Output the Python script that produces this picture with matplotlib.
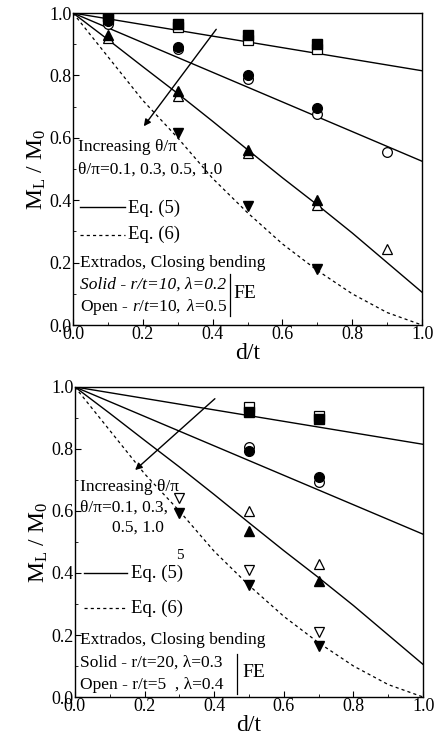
import matplotlib
matplotlib.use('Agg')
import matplotlib.pyplot as plt
import numpy as np

plt.rcParams.update({
    'font.family': ['Liberation Serif', 'DejaVu Serif'],
    'mathtext.fontset': 'custom',
    'mathtext.rm': 'Liberation Serif',
    'mathtext.it': 'Liberation Serif:italic',
    'xtick.direction': 'in',
    'ytick.direction': 'in',
})

# analytical curves (same in both panels)
d_eq = [0.0, 0.1, 0.2, 0.3, 0.4, 0.5, 0.6, 0.7, 0.8, 0.9, 1.0]
eq5_a = [1.0, 0.9815, 0.963, 0.9445, 0.926, 0.9075, 0.889, 0.8705, 0.852, 0.8335, 0.815]
eq5_b = [1.0, 0.9525, 0.905, 0.8575, 0.81, 0.7625, 0.715, 0.6675, 0.62, 0.5725, 0.525]
eq5_c = [1.0, 0.915, 0.828, 0.742, 0.653, 0.562, 0.472, 0.385, 0.295, 0.20, 0.105]
eq6 = [1.0, 0.86, 0.72, 0.60, 0.47, 0.36, 0.26, 0.175, 0.10, 0.04, 0.0]

# top panel FE data (solid = filled, open = hollow)
t_d = [0.1, 0.3, 0.5, 0.7]
t_sq_solid = [0.99, 0.965, 0.93, 0.90]
t_sq_open = [0.98, 0.955, 0.915, 0.885]
t_ci_solid = [0.975, 0.89, 0.80, 0.695]
t_ci_open = [0.965, 0.885, 0.79, 0.675]
t_tu_solid = [0.93, 0.75, 0.56, 0.40]
t_tu_open = [0.92, 0.735, 0.55, 0.385]
t_extra_d = [0.9]
t_ci_extra = [0.555]
t_tu_extra = [0.245]
t_td_d = [0.3, 0.5, 0.7]
t_td_solid = [0.615, 0.38, 0.18]

# bottom panel FE data
b_d = [0.5, 0.7]
b_sq_open = [0.935, 0.905]
b_sq_solid = [0.92, 0.895]
b_ci_open = [0.805, 0.695]
b_ci_solid = [0.795, 0.71]
b_tu_open = [0.60, 0.43]
b_tu_solid = [0.535, 0.375]
b_td_d = [0.3, 0.5, 0.7]
b_td_open = [0.642, 0.41, 0.21]
b_td_solid = [0.594, 0.36, 0.165]

fig = plt.figure(figsize=(4.38, 7.49), dpi=100)
ax1 = fig.add_axes([0.1667, 0.566, 0.797, 0.4166])
ax2 = fig.add_axes([0.171, 0.0694, 0.795, 0.414])

ms = 7
def pts(ax, x, y, m, filled):
    if filled:
        ax.plot(x, y, m, color='k', ms=ms, ls='none', zorder=4)
    else:
        ax.plot(x, y, m, mfc='white', mec='k', mew=0.9, ms=ms, ls='none', zorder=3)

fs = 12.5
for ax in (ax1, ax2):
    ax.plot(d_eq, eq5_a, 'k-', lw=1.0)
    ax.plot(d_eq, eq5_b, 'k-', lw=1.0)
    ax.plot(d_eq, eq5_c, 'k-', lw=1.0)
    ax.plot(d_eq, eq6, 'k--', lw=0.9, dashes=(2.5, 2.5))
    ax.set_xlim(0, 1.0)
    ax.set_ylim(0, 1.0)
    ax.set_xticks([0.0, 0.2, 0.4, 0.6, 0.8, 1.0])
    ax.set_yticks([0.0, 0.2, 0.4, 0.6, 0.8, 1.0])
    ax.set_xticks(np.arange(0.1, 1.0, 0.2), minor=True)
    ax.set_yticks(np.arange(0.1, 1.0, 0.2), minor=True)
    ax.tick_params(which='major', length=4, width=0.8, labelsize=13, pad=1)
    ax.tick_params(which='minor', length=2, width=0.6)
    ax.tick_params(top=False, right=False)
    ax.set_xlabel('d/t', fontsize=17, labelpad=0)
    ax.set_ylabel(r'M$_\mathrm{L}$ / M$_0$', fontsize=17, labelpad=1)
    for s in ax.spines.values():
        s.set_linewidth(1.0)

# top panel
pts(ax1, t_d, t_sq_open, 's', False)
pts(ax1, t_d, t_sq_solid, 's', True)
pts(ax1, t_d, t_ci_open, 'o', False)
pts(ax1, t_d, t_ci_solid, 'o', True)
pts(ax1, t_d, t_tu_open, '^', False)
pts(ax1, t_d, t_tu_solid, '^', True)
pts(ax1, t_extra_d, t_ci_extra, 'o', False)
pts(ax1, t_extra_d, t_tu_extra, '^', False)
pts(ax1, t_td_d, t_td_solid, 'v', True)

ax1.annotate('', xy=(0.198, 0.63), xytext=(0.415, 0.955),
             arrowprops=dict(arrowstyle='-|>', color='k', lw=1.0, mutation_scale=10))
ax1.text(0.015, 0.57, 'Increasing θ/π', fontsize=fs, va='center')
ax1.text(0.015, 0.497, 'θ/π=0.1, 0.3, 0.5, 1.0', fontsize=fs, va='center')
ax1.plot([0.02, 0.15], [0.378, 0.378], 'k-', lw=1.0)
ax1.text(0.158, 0.375, 'Eq. (5)', fontsize=13.5, va='center')
ax1.plot([0.02, 0.15], [0.29, 0.29], 'k--', lw=0.9, dashes=(2.5, 2.5))
ax1.text(0.158, 0.29, 'Eq. (6)', fontsize=13.5, va='center')
ax1.text(0.02, 0.20, 'Extrados, Closing bending', fontsize=fs, va='center')
ax1.text(0.02, 0.128, 'Solid - r/t=10, λ=0.2', fontsize=fs, va='center', style='italic')
ax1.text(0.02, 0.058, r'Open - $\mathit{r/t}$=$\mathit{10,}$ $\mathit{λ}$=$\mathit{0.5}$',
         fontsize=fs, va='center')
ax1.plot([0.45, 0.45], [0.03, 0.165], 'k-', lw=0.9)
ax1.text(0.46, 0.1, 'FE', fontsize=14, va='center')

# bottom panel
pts(ax2, b_d, b_sq_open, 's', False)
pts(ax2, b_d, b_sq_solid, 's', True)
pts(ax2, b_d, b_ci_open, 'o', False)
pts(ax2, b_d, b_ci_solid, 'o', True)
pts(ax2, b_d, b_tu_open, '^', False)
pts(ax2, b_d, b_tu_solid, '^', True)
pts(ax2, b_td_d, b_td_open, 'v', False)
pts(ax2, b_td_d, b_td_solid, 'v', True)

ax2.annotate('', xy=(0.167, 0.726), xytext=(0.408, 0.968),
             arrowprops=dict(arrowstyle='-|>', color='k', lw=1.0, mutation_scale=10))
ax2.text(0.015, 0.677, 'Increasing θ/π', fontsize=fs, va='center')
ax2.text(0.015, 0.61, 'θ/π=0.1, 0.3,', fontsize=fs, va='center')
ax2.text(0.106, 0.545, '0.5, 1.0', fontsize=fs, va='center')
ax2.text(0.29, 0.458, '5', fontsize=11, va='center')
ax2.plot([0.025, 0.15], [0.40, 0.40], 'k-', lw=1.0)
ax2.text(0.16, 0.398, 'Eq. (5)', fontsize=13.5, va='center')
ax2.plot([0.025, 0.15], [0.287, 0.287], 'k--', lw=0.9, dashes=(2.5, 2.5))
ax2.text(0.16, 0.287, 'Eq. (6)', fontsize=13.5, va='center')
ax2.text(0.015, 0.184, 'Extrados, Closing bending', fontsize=fs, va='center')
ax2.text(0.015, 0.11, 'Solid - r/t=20, λ=0.3', fontsize=fs, va='center')
ax2.text(0.015, 0.04, 'Open - r/t=5  , λ=0.4', fontsize=fs, va='center')
ax2.plot([0.465, 0.465], [0.01, 0.14], 'k-', lw=0.9)
ax2.text(0.48, 0.08, 'FE', fontsize=14, va='center')

fig.savefig('out.png', dpi=100)
